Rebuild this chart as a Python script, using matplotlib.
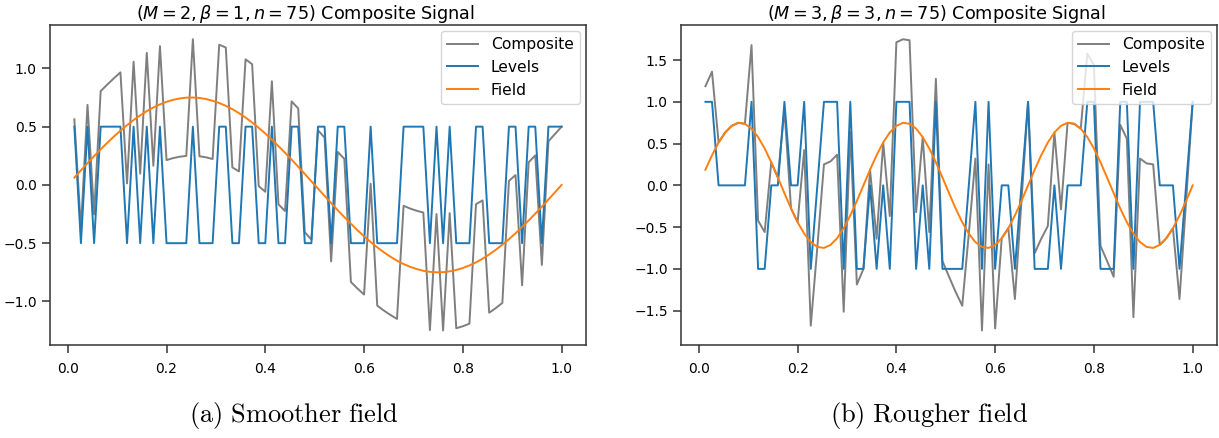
import matplotlib
matplotlib.use("Agg")
import matplotlib.pyplot as plt
import numpy as np

# ---------------- data ----------------
n_points = 75
x_left = [(i + 1) / 75 for i in range(75)]
x_right = [(i + 1) / 75 for i in range(75)]

levels_left = [0.5, -0.5, 0.5, -0.5, 0.5, 0.5, 0.5, 0.5, -0.5, 0.5,
               -0.5, 0.5, -0.5, 0.5, -0.5, -0.5, -0.5, -0.5, 0.5, -0.5,
               -0.5, -0.5, 0.5, 0.5, -0.5, -0.5, 0.5, 0.5, -0.5, -0.5,
               0.5, -0.5, -0.5, 0.5, 0.5, -0.5, -0.5, 0.5, 0.5, -0.5,
               0.5, 0.5, -0.5, -0.5, -0.5, 0.5, -0.5, -0.5, -0.5, -0.5,
               0.5, 0.5, 0.5, 0.5, -0.5, 0.5, -0.5, 0.5, -0.5, -0.5,
               -0.5, 0.5, 0.5, -0.5, -0.5, -0.5, 0.5, 0.5, -0.5, 0.5,
               0.5, -0.5, 0.5, 0.5, 0.5]

field_left = [0.063, 0.125, 0.187, 0.247, 0.305, 0.361, 0.415, 0.466, 0.513, 0.557,
              0.597, 0.633, 0.665, 0.691, 0.713, 0.730, 0.742, 0.749, 0.750, 0.746,
              0.737, 0.722, 0.703, 0.679, 0.650, 0.616, 0.578, 0.536, 0.490, 0.441,
              0.389, 0.333, 0.276, 0.217, 0.156, 0.094, 0.031, -0.031, -0.094, -0.156,
              -0.217, -0.276, -0.333, -0.389, -0.441, -0.490, -0.536, -0.578, -0.616, -0.650,
              -0.679, -0.703, -0.722, -0.737, -0.746, -0.750, -0.749, -0.742, -0.730, -0.713,
              -0.691, -0.665, -0.633, -0.597, -0.557, -0.513, -0.466, -0.415, -0.361, -0.305,
              -0.247, -0.187, -0.125, -0.063, 0.000]

composite_left = [0.563, -0.375, 0.687, -0.253, 0.805, 0.861, 0.915, 0.966, 0.013, 1.057,
                  0.097, 1.133, 0.165, 1.191, 0.213, 0.230, 0.242, 0.249, 1.250, 0.246,
                  0.237, 0.222, 1.203, 1.179, 0.150, 0.116, 1.078, 1.036, -0.010, -0.059,
                  0.889, -0.167, -0.224, 0.717, 0.656, -0.406, -0.469, 0.469, 0.406, -0.656,
                  0.283, 0.224, -0.833, -0.889, -0.941, 0.010, -1.036, -1.078, -1.116, -1.150,
                  -0.179, -0.203, -0.222, -0.237, -1.246, -0.250, -1.249, -0.242, -1.230, -1.213,
                  -1.191, -0.165, -0.133, -1.097, -1.057, -1.013, 0.034, 0.085, -0.861, 0.195,
                  0.253, -0.687, 0.375, 0.437, 0.500]

levels_right = [1, 1, 0, 0, 0, 0, 0, 1, -1, -1,
                0, 0, 1, 0, 0, 1, -1, 0, 1, 1,
                1, -1, 1, -1, -1, 0, -1, 0, -1, 1,
                1, 1, -1, 0, -1, 1, -1, -1, -1, -1,
                0, 1, -1, 1, -1, 0, 0, -1, 0, 1,
                -1, -1, -1, 0, -1, 0, 0, 0, 1, 1,
                -1, -1, -1, 1, 1, -1, 1, 1, 1, 0,
                0, 0, -1, 0, 1]

field_right = [0.187, 0.361, 0.513, 0.633, 0.713, 0.749, 0.737, 0.679, 0.578, 0.441,
               0.276, 0.094, -0.094, -0.276, -0.441, -0.578, -0.679, -0.737, -0.749, -0.713,
               -0.633, -0.513, -0.361, -0.187, 0.000,
               0.187, 0.361, 0.513, 0.633, 0.713, 0.749, 0.737, 0.679, 0.578, 0.441,
               0.276, 0.094, -0.094, -0.276, -0.441, -0.578, -0.679, -0.737, -0.749, -0.713,
               -0.633, -0.513, -0.361, -0.187, 0.000,
               0.187, 0.361, 0.513, 0.633, 0.713, 0.749, 0.737, 0.679, 0.578, 0.441,
               0.276, 0.094, -0.094, -0.276, -0.441, -0.578, -0.679, -0.737, -0.749, -0.713,
               -0.633, -0.513, -0.361, -0.187, 0.000]

composite_right = [1.187, 1.361, 0.513, 0.633, 0.713, 0.749, 0.737, 1.679, -0.422, -0.559,
                   0.276, 0.094, 0.906, -0.276, -0.441, 0.422, -1.679, -0.737, 0.251, 0.287,
                   0.367, -1.513, 0.639, -1.187, -1.000, 0.187, -0.639, 0.513, -0.367, 1.713,
                   1.749, 1.737, -0.321, 0.578, -0.559, 1.276, -0.906, -1.094, -1.276, -1.441,
                   -0.578, 0.321, -1.737, 0.251, -1.713, -0.633, -0.513, -1.361, -0.187, 1.000,
                   -0.813, -0.639, -0.487, 0.633, -0.287, 0.749, 0.737, 0.679, 1.578, 1.441,
                   -0.724, -0.906, -1.094, 0.724, 0.559, -1.578, 0.321, 0.263, 0.251, -0.713,
                   -0.633, -0.513, -1.361, -0.187, 1.000]

titles = [r"$(M = 2, \beta = 1, n = 75)$ Composite Signal",
          r"$(M = 3, \beta = 3, n = 75)$ Composite Signal"]
captions = [r"$\mathrm{(a)\ Smoother\ field}$", r"$\mathrm{(b)\ Rougher\ field}$"]
series_names = ["Composite", "Levels", "Field"]

# ---------------- style ----------------
plt.rcParams.update({
    "font.family": "DejaVu Sans",
    "mathtext.fontset": "dejavusans",
    "axes.edgecolor": "0.2",
    "axes.linewidth": 1.1,
    "xtick.color": "0.2",
    "ytick.color": "0.2",
    "xtick.labelcolor": "black",
    "ytick.labelcolor": "black",
    "xtick.major.size": 6,
    "ytick.major.size": 6,
    "xtick.major.width": 1.1,
    "ytick.major.width": 1.1,
    "xtick.labelsize": 10,
    "ytick.labelsize": 10,
})

fig = plt.figure(figsize=(12.19, 4.38), dpi=100)
ax_l = fig.add_axes([0.0410, 0.2123, 0.4397, 0.7313])
ax_r = fig.add_axes([0.5587, 0.2123, 0.4397, 0.7313])

panels = [
    (ax_l, x_left, composite_left, levels_left, field_left),
    (ax_r, x_right, composite_right, levels_right, field_right),
]

for k, (ax, xs, comp, lev, fld) in enumerate(panels):
    ax.plot(xs, comp, color="tab:gray", lw=1.4, label=series_names[0])
    ax.plot(xs, lev, color="tab:blue", lw=1.4, label=series_names[1])
    ax.plot(xs, fld, color="tab:orange", lw=1.4, label=series_names[2])
    ax.set_title(titles[k], fontsize=12.7, pad=3, x=0.477)
    ax.set_xticks([0.0, 0.2, 0.4, 0.6, 0.8, 1.0])
    ax.tick_params(axis="x", pad=6)
    ax.legend(loc="upper right", fontsize=11.2, borderaxespad=0.4,
              handlelength=2.0, framealpha=0.8)

fig.text(0.241, 0.052, captions[0], fontsize=19, math_fontfamily="cm",
         ha="center", va="center")
fig.text(0.762, 0.052, captions[1], fontsize=19, math_fontfamily="cm",
         ha="center", va="center")

fig.savefig("out.png", dpi=100)
